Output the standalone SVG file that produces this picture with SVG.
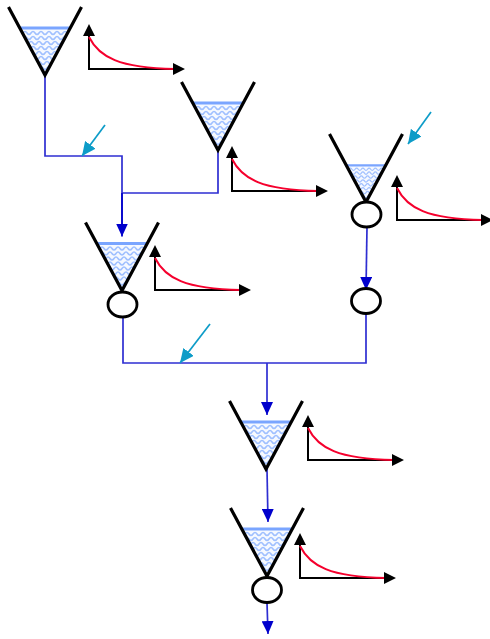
<svg xmlns="http://www.w3.org/2000/svg" width="490" height="639" viewBox="0 0 490 639">
<style>
.arm{fill:none;stroke:#000;stroke-width:3.2;stroke-linecap:butt}
.surf{fill:none;stroke:#7aa5ff;stroke-width:3}
.fillw{fill:#f6f9ff}
.wave{fill:none;stroke:#a0c0ff;stroke-width:1.6}
.vent{fill:#fff;stroke:#000;stroke-width:2.8}
.ax{fill:none;stroke:#000;stroke-width:2}
.curve{fill:none;stroke:#f5002d;stroke-width:2}
.flow{fill:none;stroke:#2e2ed2;stroke-width:1.7}
.inj{fill:none;stroke:#0d9cc8;stroke-width:1.7}
</style>
<defs>
<marker id="bh" markerUnits="userSpaceOnUse" viewBox="0 0 13 12" refX="13" refY="6" markerWidth="13" markerHeight="12" orient="auto"><path d="M0 0L13 6L0 12z" fill="#0000cc"/></marker>
<marker id="ch" markerUnits="userSpaceOnUse" viewBox="0 0 14 13" refX="14" refY="6.500" markerWidth="14" markerHeight="13" orient="auto"><path d="M0 0L14 6.500L0 13z" fill="#0d9cc8"/></marker>
<clipPath id="tri"><path d="M-24.500 -47H24.500L0 0z"/></clipPath>
<g id="water">
<path class="fillw" d="M-24.500 -47H24.500L0 0z"/>
<g clip-path="url(#tri)">
<path id="w" class="wave" d="M-30 -42q2 -3 4 0t4 0t4 0t4 0t4 0t4 0t4 0t4 0t4 0t4 0t4 0t4 0t4 0t4 0t4 0"/>
<use href="#w" y="5"/><use href="#w" x="-2" y="10"/><use href="#w" y="15"/><use href="#w" x="-2" y="20"/><use href="#w" y="25"/><use href="#w" x="-2" y="30"/><use href="#w" y="35"/><use href="#w" x="-2" y="40"/>
</g>
<path class="surf" d="M-24.500 -47H24.500"/>
</g>
<path id="arms" class="arm" d="M-36.500 -68L0 0L36.500 -68"/>
<g id="plot">
<path class="ax" d="M0 -36V0H86"/>
<path class="curve" d="M0 -32C10 -12 30 -1 86 0"/>
<path d="M0 -45L-6 -33H6z M96 0L84 -6V6z" fill="#000"/>
</g>
</defs>
<g id="connectors">
<path class="flow" d="M45 75V156H122V226"/>
<path class="flow" d="M218 150V193H122"/>
<path class="flow" style="stroke:#0000cc" d="M122 193V236.500" marker-end="url(#bh)"/>
<path class="flow" d="M367 227L366 290" marker-end="url(#bh)"/>
<path class="flow" d="M366 314V363H123V317"/>
<path class="flow" d="M267 363V415" marker-end="url(#bh)"/>
<path class="flow" d="M267 469L268 522" marker-end="url(#bh)"/>
<path class="flow" d="M267 603L268 634" marker-end="url(#bh)"/>
<path class="inj" d="M105 125L82 156" marker-end="url(#ch)"/>
<path class="inj" d="M431 112L408 144" marker-end="url(#ch)"/>
<path class="inj" d="M210 324L180 363" marker-end="url(#ch)"/>
</g>
<g id="tank1"><use href="#water" x="45" y="75"/><use href="#arms" x="45" y="75"/><use href="#plot" x="89" y="69"/></g>
<g id="tank2"><use href="#water" x="218" y="150"/><use href="#arms" x="218" y="150"/><use href="#plot" x="232" y="191"/></g>
<g id="tank3"><use href="#water" transform="translate(366 202) scale(.78)"/><use href="#arms" x="366" y="202"/><ellipse class="vent" cx="366.500" cy="214.500" rx="14.500" ry="12.500"/><use href="#plot" x="397" y="220"/></g>
<g id="valve3"><ellipse class="vent" cx="366" cy="301" rx="14.500" ry="12.500"/></g>
<g id="tank4"><use href="#water" x="122" y="290.500"/><use href="#arms" x="122" y="290.500"/><ellipse class="vent" cx="122.500" cy="304.500" rx="14.500" ry="12.500"/><use href="#plot" x="155" y="290"/></g>
<g id="tank5"><use href="#water" x="266" y="469"/><use href="#arms" x="266" y="469"/><use href="#plot" x="308" y="460"/></g>
<g id="tank6"><use href="#water" x="267" y="576"/><use href="#arms" x="267" y="576"/><ellipse class="vent" cx="267" cy="590" rx="14.500" ry="12.500"/><use href="#plot" x="300" y="578"/></g>
</svg>
